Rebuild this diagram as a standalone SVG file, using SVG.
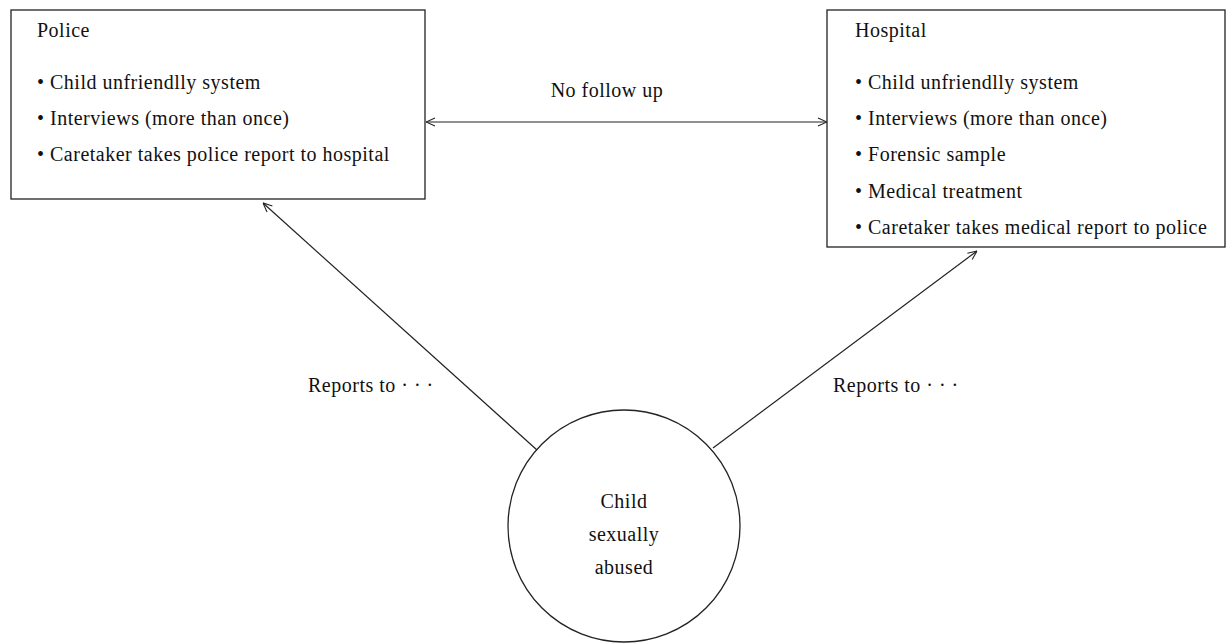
<svg xmlns="http://www.w3.org/2000/svg" width="1229" height="643" viewBox="0 0 1229 643">
<style>
text{font-family:"Liberation Serif","Times New Roman",serif;font-size:20px;letter-spacing:0.5px;fill:#111}
.box{fill:#fff;stroke:#222;stroke-width:1.3}
.edge{stroke:#222;stroke-width:1.2;fill:none}
.mid{text-anchor:middle}
</style>
<defs>
<marker id="ah" viewBox="0 0 10 10" refX="10" refY="5" markerWidth="10" markerHeight="10" markerUnits="userSpaceOnUse" orient="auto-start-reverse">
<path d="M1,1 L10,5 L1,9" fill="none" stroke="#222" stroke-width="1.1"/>
</marker>
</defs>
<rect width="1229" height="643" fill="#fff"/>
<g id="connectors">
<line class="edge" x1="426" y1="122" x2="827" y2="122" marker-start="url(#ah)" marker-end="url(#ah)"/>
<line class="edge" x1="537" y1="450" x2="263" y2="203" marker-end="url(#ah)"/>
<line class="edge" x1="713" y1="448" x2="977" y2="251" marker-end="url(#ah)"/>
<text class="mid" x="607" y="97">No follow up</text>
<text x="308" y="392">Reports to · · ·</text>
<text x="833" y="392">Reports to · · ·</text>
</g>
<g id="police">
<rect class="box" x="11" y="10" width="414" height="189"/>
<text x="37" y="37">Police</text>
<text x="37" y="89">• Child unfriendlly system</text>
<text x="37" y="125">• Interviews (more than once)</text>
<text x="37" y="161">• Caretaker takes police report to hospital</text>
</g>
<g id="hospital">
<rect class="box" x="827" y="10" width="398" height="237"/>
<text x="855" y="37">Hospital</text>
<text x="855" y="89">• Child unfriendlly system</text>
<text x="855" y="125">• Interviews (more than once)</text>
<text x="855" y="161">• Forensic sample</text>
<text x="855" y="198">• Medical treatment</text>
<text x="855" y="234">• Caretaker takes medical report to police</text>
</g>
<g id="child">
<circle class="box" cx="624" cy="526" r="116"/>
<text class="mid" x="624" y="508">Child</text>
<text class="mid" x="624" y="541">sexually</text>
<text class="mid" x="624" y="574">abused</text>
</g>
</svg>
